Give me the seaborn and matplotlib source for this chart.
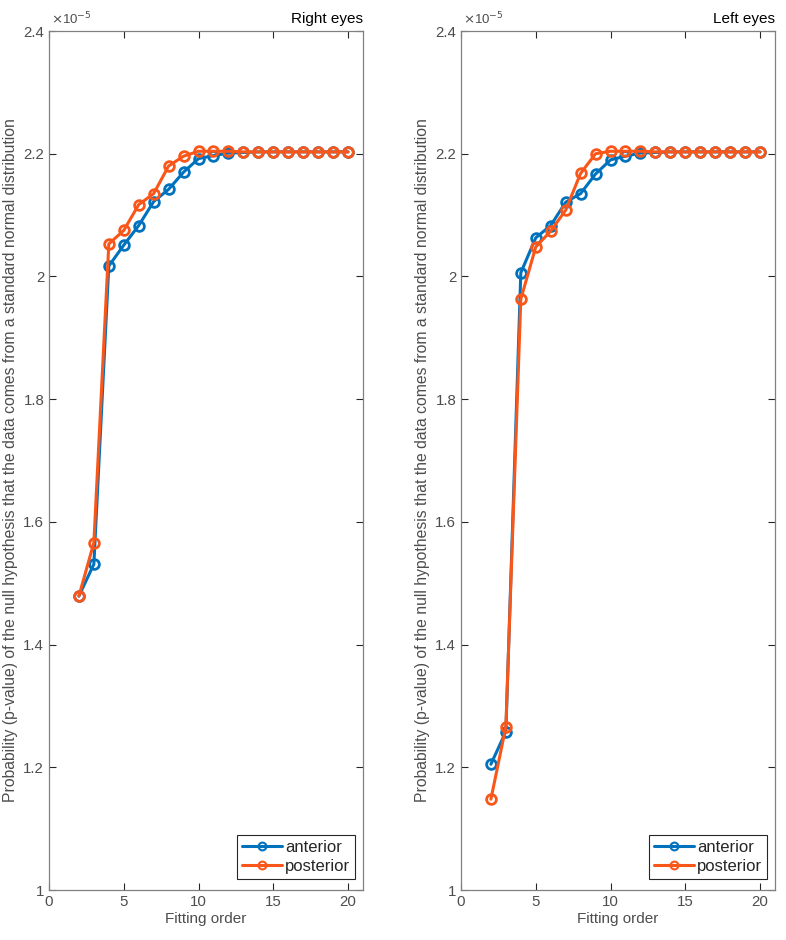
import matplotlib
matplotlib.use("Agg")
import matplotlib.pyplot as plt
import seaborn as sns
import pandas as pd
from matplotlib.ticker import FuncFormatter

orders = list(range(2, 21))

right_anterior = [1.479, 1.531, 2.017, 2.051, 2.083, 2.122, 2.142, 2.170, 2.192, 2.197, 2.201,
                  2.202, 2.203, 2.203, 2.203, 2.203, 2.203, 2.203, 2.203]
right_posterior = [1.479, 1.566, 2.053, 2.075, 2.117, 2.135, 2.180, 2.196, 2.204, 2.204, 2.204,
                   2.203, 2.203, 2.203, 2.203, 2.203, 2.203, 2.203, 2.203]
left_anterior = [1.205, 1.258, 2.006, 2.063, 2.083, 2.121, 2.135, 2.167, 2.190, 2.196, 2.201,
                 2.202, 2.203, 2.203, 2.203, 2.203, 2.203, 2.203, 2.203]
left_posterior = [1.148, 1.266, 1.963, 2.048, 2.074, 2.108, 2.168, 2.200, 2.204, 2.204, 2.204,
                  2.203, 2.203, 2.203, 2.203, 2.203, 2.203, 2.203, 2.203]

panel_titles = ["Right eyes", "Left eyes"]
series_names = ["anterior", "posterior"]
xticks = [0, 5, 10, 15, 20]
yticks = [1, 1.2, 1.4, 1.6, 1.8, 2, 2.2, 2.4]

ylabel_text = ("Probability (p-value) of the null hypothesis that the data comes "
               "from a standard normal distribution")

sns.set_style("ticks")
plt.rcParams['font.family'] = ['Liberation Sans', 'DejaVu Sans']

colors = ["#0072BD", "#F9561A"]
axcol = "#262626"

fig = plt.figure(figsize=(7.86, 9.40), dpi=100)
W, H = 786, 940
positions = [(49, 31, 363, 890), (461, 31, 775, 890)]
data_sets = [(right_anterior, right_posterior), (left_anterior, left_posterior)]

for (x0, y0, x1, y1), title, (ant, post) in zip(positions, panel_titles, data_sets):
    ax = fig.add_axes([x0 / W, (H - y1) / H, (x1 - x0) / W, (y1 - y0) / H])
    for name, vals, c in zip(series_names, (ant, post), colors):
        df = pd.DataFrame({"order": orders, "p": vals})
        sns.lineplot(data=df, x="order", y="p", ax=ax, color=c, linewidth=2.2,
                     marker="o", markersize=7, markerfacecolor="none",
                     markeredgecolor=c, markeredgewidth=2.0, label=name)
    ax.set_xlim(0, 21)
    ax.set_ylim(1, 2.4)
    ax.set_xticks(xticks)
    ax.set_yticks(yticks)
    ax.yaxis.set_major_formatter(FuncFormatter(lambda v, p: f"{v:g}"))
    ax.tick_params(direction="in", top=True, right=True, length=5, width=0.8,
                   colors=axcol, labelsize=10.8, labelcolor="#4d4d4d")
    for s in ax.spines.values():
        s.set_visible(True)
        s.set_color("#808080")
        s.set_linewidth(0.9)
    ax.set_xlabel("Fitting order", fontsize=11, color="#4d4d4d", labelpad=2)
    ax.set_ylabel(ylabel_text, fontsize=11.3, color="#4d4d4d", labelpad=4)
    ax.set_title(title, loc="right", fontsize=11, color="black", pad=6)
    ax.text(0.005, 1.004, r"$\times$10$^{-5}$", transform=ax.transAxes,
            fontsize=9.5, color="#4d4d4d", ha="left", va="bottom")
    wpx, hpx = x1 - x0, y1 - y0
    leg = ax.legend(loc="lower right", bbox_to_anchor=(1 - 8 / wpx, 11 / hpx),
                    fancybox=False, fontsize=12, borderaxespad=0.0,
                    handlelength=2.4, handletextpad=0.15, borderpad=0.3,
                    labelspacing=0.25, markerscale=0.8)
    for h in leg.legend_handles:
        h.set_markeredgewidth(1.5)
    leg.get_frame().set_edgecolor("#262626")
    leg.get_frame().set_linewidth(0.8)
    leg.get_frame().set_alpha(1)
    ax.grid(False)

fig.savefig("out.png", dpi=100)
